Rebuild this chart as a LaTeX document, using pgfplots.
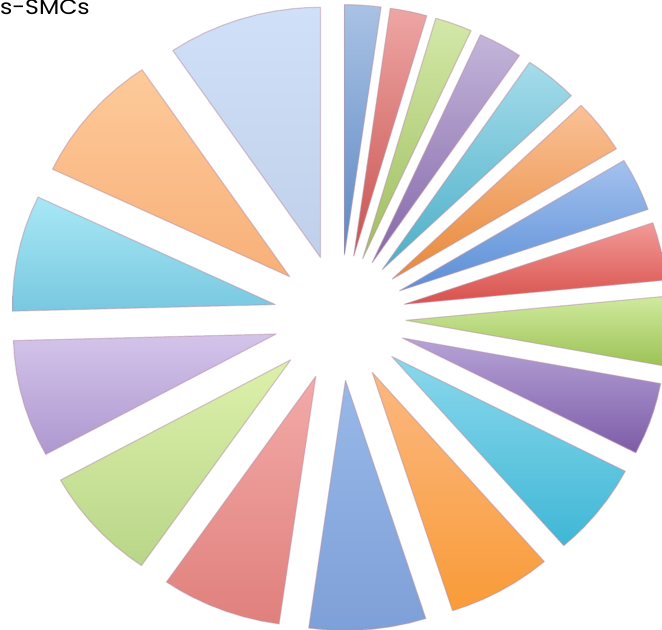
\documentclass[border=0pt]{standalone}
\usepackage{pgfplots}
\pgfplotsset{compat=1.18}
\usepackage{fontspec}
\setmainfont{Poppins}
\definecolor{t1}{HTML}{A9C2E4}\definecolor{b1}{HTML}{5D88C4}
\definecolor{t2}{HTML}{EDA6A4}\definecolor{b2}{HTML}{C9524F}
\definecolor{t3}{HTML}{D3E8A8}\definecolor{b3}{HTML}{9FBE5E}
\definecolor{t4}{HTML}{C3B5DA}\definecolor{b4}{HTML}{8467A8}
\definecolor{t5}{HTML}{A5DCEA}\definecolor{b5}{HTML}{4BAFC8}
\definecolor{t6}{HTML}{FAC196}\definecolor{b6}{HTML}{E8893A}
\definecolor{t7}{HTML}{A3C1EE}\definecolor{b7}{HTML}{5A8ED6}
\definecolor{t8}{HTML}{F29A96}\definecolor{b8}{HTML}{D8504C}
\definecolor{t9}{HTML}{D0EA9E}\definecolor{b9}{HTML}{9CC255}
\definecolor{t10}{HTML}{B6A3D6}\definecolor{b10}{HTML}{7D5CA8}
\definecolor{t11}{HTML}{8AD8EC}\definecolor{b11}{HTML}{3FB7D6}
\definecolor{t12}{HTML}{FBB880}\definecolor{b12}{HTML}{F99B38}
\definecolor{t13}{HTML}{98B8E8}\definecolor{b13}{HTML}{7EA0D8}
\definecolor{t14}{HTML}{F3AAA8}\definecolor{b14}{HTML}{E0807C}
\definecolor{t15}{HTML}{DDF0AA}\definecolor{b15}{HTML}{B8D688}
\definecolor{t16}{HTML}{D4C4EA}\definecolor{b16}{HTML}{AE98D0}
\definecolor{t17}{HTML}{A8E8F6}\definecolor{b17}{HTML}{78C8E0}
\definecolor{t18}{HTML}{FDCA9A}\definecolor{b18}{HTML}{F8B078}
\definecolor{t19}{HTML}{D0E0F8}\definecolor{b19}{HTML}{C0D0EA}
\definecolor{rim}{HTML}{B894A8}
\begin{document}
\begin{tikzpicture}
\begin{axis}[
  x=1.05pt, y=1pt,
  xmin=-323.8, xmax=306.7, ymin=-312, ymax=320,
  hide axis, clip=true, clip bounding box=upper bound,
  data cs=polar,
  every axis plot/.append style={draw=rim, draw opacity=0.5, line width=1.2pt, line join=round},
]
\addplot[top color=t1, bottom color=b1, xshift=4.62pt, yshift=62.85pt] coordinates {(0,0) (90,250) (88,250) (86,250) (84,250) (82,250)} -- cycle;
\addplot[top color=t2, bottom color=b2, xshift=13.84pt, yshift=61.61pt] coordinates {(0,0) (82,250) (80,250) (78,250) (76,250) (73.85,250)} -- cycle;
\addplot[top color=t3, bottom color=b3, xshift=22.89pt, yshift=59.11pt] coordinates {(0,0) (73.85,250) (71,250) (68,250) (65.65,250)} -- cycle;
\addplot[top color=t4, bottom color=b4, xshift=32.29pt, yshift=54.98pt] coordinates {(0,0) (65.65,250) (63,250) (60,250) (58,250) (55.9,250)} -- cycle;
\addplot[top color=t5, bottom color=b5, xshift=42.56pt, yshift=48.23pt] coordinates {(0,0) (55.9,250) (53,250) (50,250) (47,250) (44,250)} -- cycle;
\addplot[top color=t6, bottom color=b6, xshift=52.34pt, yshift=38.52pt] coordinates {(0,0) (44,250) (41,250) (38,250) (35,250) (31.4,250)} -- cycle;
\addplot[top color=t7, bottom color=b7, xshift=59.85pt, yshift=26.83pt] coordinates {(0,0) (31.4,250) (28,250) (25,250) (22,250) (19,250)} -- cycle;
\addplot[top color=t8, bottom color=b8, xshift=64.64pt, yshift=13.39pt] coordinates {(0,0) (19,250) (16,250) (13,250) (10,250) (7,250) (5.55,250)} -- cycle;
\addplot[top color=t9, bottom color=b9, xshift=66.09pt, yshift=-2.72pt] coordinates {(0,0) (5.55,250) (2,250) (-1,250) (-4,250) (-7,250) (-10.5,250)} -- cycle;
\addplot[top color=t10, bottom color=b10, xshift=62.59pt, yshift=-20.41pt] coordinates {(0,0) (-10.5,250) (-14,250) (-17,250) (-20,250) (-23,250) (-27.3,250)} -- cycle;
\addplot[top color=t11, bottom color=b11, xshift=51.99pt, yshift=-38.96pt] coordinates {(0,0) (-27.3,250) (-31,250) (-35,250) (-39,250) (-43,250) (-46,250) (-49.1,250)} -- cycle;
\addplot[top color=t12, bottom color=b12, xshift=32.42pt, yshift=-54.92pt] coordinates {(0,0) (-49.1,250) (-53,250) (-57,250) (-61,250) (-65,250) (-69,250) (-72.2,250)} -- cycle;
\addplot[top color=t13, bottom color=b13, xshift=5.62pt, yshift=-62.77pt] coordinates {(0,0) (-72.2,250) (-76,250) (-80,250) (-84,250) (-88,250) (-92,250) (-95,250) (-98.05,250)} -- cycle;
\addplot[top color=t14, bottom color=b14, xshift=-24.08pt, yshift=-58.68pt] coordinates {(0,0) (-98.05,250) (-102,250) (-106,250) (-110,250) (-114,250) (-118,250) (-121,250) (-124.65,250)} -- cycle;
\addplot[top color=t15, bottom color=b15, xshift=-49.13pt, yshift=-42.19pt] coordinates {(0,0) (-124.65,250) (-128,250) (-132,250) (-136,250) (-140,250) (-144,250) (-148,250) (-151.25,250)} -- cycle;
\addplot[top color=t16, bottom color=b16, xshift=-63.86pt, yshift=-16.44pt] coordinates {(0,0) (-151.25,250) (-155,250) (-159,250) (-163,250) (-167,250) (-171,250) (-175,250) (-178.5,250)} -- cycle;
\addplot[top color=t17, bottom color=b17, xshift=-64.71pt, yshift=13.07pt] coordinates {(0,0) (-178.5,250) (-182,250) (-186,250) (-190,250) (-194,250) (-198,250) (-202,250) (-205.45,250)} -- cycle;
\addplot[top color=t18, bottom color=b18, xshift=-50.22pt, yshift=41.01pt] coordinates {(0,0) (-205.45,250) (-209,250) (-213,250) (-217,250) (-221,250) (-225,250) (-229,250) (-233,250) (-235.8,250)} -- cycle;
\addplot[top color=t19, bottom color=b19, xshift=-19.45pt, yshift=60.20pt] coordinates {(0,0) (-235.8,250) (-240,250) (-244,250) (-248,250) (-252,250) (-256,250) (-260,250) (-264,250) (-267,250) (-270,250)} -- cycle;
\end{axis}
\node[anchor=base west, inner sep=0pt, xscale=1.12, font=\fontsize{21}{25}\selectfont] at (0pt,614.7pt) {s-SMCs};
\end{tikzpicture}
\end{document}
